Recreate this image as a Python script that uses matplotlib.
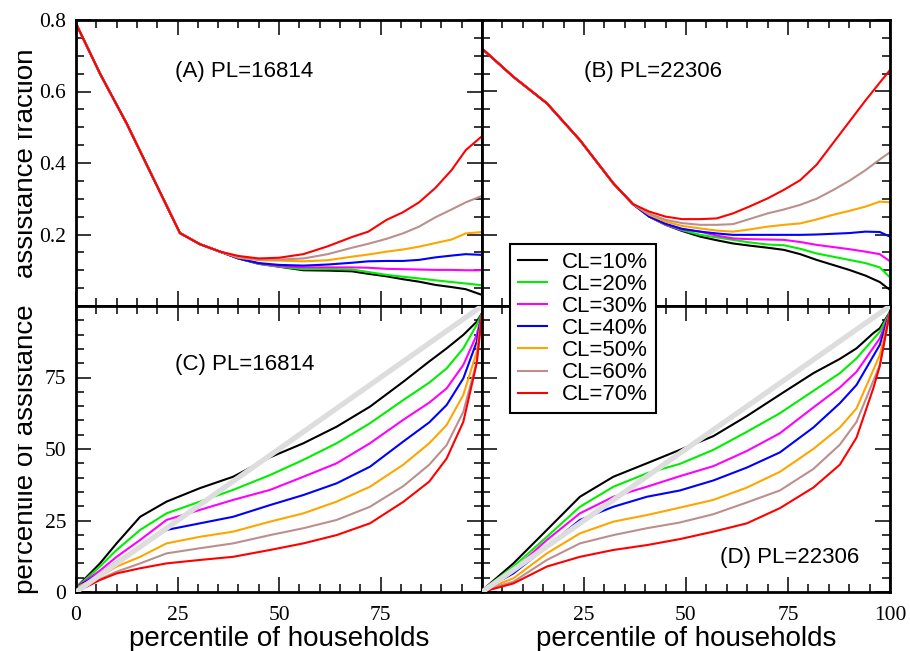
import matplotlib
matplotlib.use('Agg')
import matplotlib.pyplot as plt
from matplotlib.transforms import Bbox, TransformedBbox
from matplotlib.ticker import MultipleLocator, FixedLocator, FixedFormatter
from matplotlib.lines import Line2D

# ---------------- data ----------------
labels = ['CL=10%', 'CL=20%', 'CL=30%', 'CL=40%', 'CL=50%', 'CL=60%', 'CL=70%']
colors = ['#000000', '#00ee00', '#ff00ff', '#0000ff', '#ffa500', '#bc8f8f', '#ff0000']

# Panel A (PL=16814): assistance fraction
xA = [0, 6, 12.5, 19, 25.6, 30.5, 35.5, 40, 45, 50, 56, 62, 68, 72, 76.5, 80.5, 84.5, 88.5, 92.5, 96, 100]
A_common = [0.79, 0.648, 0.51, 0.358, 0.204, 0.173, 0.152]
A_black = A_common + [0.133, 0.118, 0.110, 0.100, 0.099, 0.097, 0.090, 0.083, 0.075, 0.068, 0.059, 0.053, 0.047, 0.031]
A_green = A_common + [0.133, 0.118, 0.110, 0.103, 0.103, 0.102, 0.095, 0.087, 0.082, 0.077, 0.072, 0.067, 0.063, 0.058]
A_magenta = A_common + [0.133, 0.119, 0.112, 0.108, 0.108, 0.108, 0.107, 0.104, 0.103, 0.102, 0.101, 0.101, 0.100, 0.100]
A_blue = A_common + [0.133, 0.120, 0.115, 0.113, 0.116, 0.121, 0.125, 0.126, 0.126, 0.129, 0.136, 0.141, 0.145, 0.143]
A_orange = A_common + [0.135, 0.128, 0.127, 0.125, 0.128, 0.138, 0.144, 0.152, 0.158, 0.166, 0.176, 0.186, 0.203, 0.207]
A_brown = A_common + [0.137, 0.130, 0.130, 0.133, 0.145, 0.163, 0.174, 0.188, 0.203, 0.222, 0.248, 0.270, 0.290, 0.308]
A_red = A_common + [0.140, 0.133, 0.135, 0.145, 0.167, 0.193, 0.208, 0.241, 0.262, 0.290, 0.330, 0.380, 0.436, 0.475]

# Panel B (PL=22306): assistance fraction
xB = [0, 7.7, 15.9, 24, 32.2, 37, 41, 45, 49, 53.5, 57.5, 61.5, 65.5, 70, 74, 78, 82, 86, 90, 94, 97.5, 100]
B_common = [0.72, 0.641, 0.567, 0.464, 0.343, 0.285]
B_black = B_common + [0.250, 0.227, 0.210, 0.194, 0.184, 0.175, 0.169, 0.163, 0.157, 0.145, 0.129, 0.115, 0.101, 0.085, 0.067, 0.045]
B_green = B_common + [0.250, 0.227, 0.212, 0.199, 0.192, 0.185, 0.178, 0.172, 0.170, 0.160, 0.147, 0.138, 0.129, 0.120, 0.108, 0.080]
B_magenta = B_common + [0.250, 0.228, 0.214, 0.208, 0.197, 0.189, 0.187, 0.186, 0.185, 0.179, 0.171, 0.165, 0.159, 0.152, 0.145, 0.125]
B_blue = B_common + [0.250, 0.230, 0.216, 0.208, 0.203, 0.199, 0.199, 0.199, 0.199, 0.199, 0.200, 0.202, 0.204, 0.208, 0.207, 0.194]
B_orange = B_common + [0.255, 0.236, 0.224, 0.217, 0.211, 0.208, 0.214, 0.222, 0.227, 0.231, 0.242, 0.255, 0.266, 0.278, 0.292, 0.290]
B_brown = B_common + [0.258, 0.241, 0.232, 0.227, 0.227, 0.229, 0.243, 0.259, 0.270, 0.283, 0.300, 0.324, 0.350, 0.380, 0.410, 0.430]
B_red = B_common + [0.264, 0.250, 0.243, 0.243, 0.245, 0.259, 0.278, 0.301, 0.325, 0.352, 0.395, 0.455, 0.515, 0.575, 0.625, 0.660]

# Panel C (PL=16814): percentile of assistance
xC = [0, 5.9, 10, 15.8, 22.3, 30.5, 38.7, 47.8, 56, 64.2, 72.4, 80.6, 87, 91.3, 95.4, 98.7, 100]
C_black = [1.5, 10, 17, 26.3, 31.6, 36.3, 40.3, 47.1, 52, 57.8, 64.8, 73.5, 80.6, 85.2, 89.9, 94.5, 97.5]
C_green = [1.5, 8.9, 14.7, 21.7, 27.5, 31.6, 35.7, 40.9, 46.2, 52, 59, 67.1, 73.2, 78.2, 85.2, 93.4, 97.5]
C_magenta = [1.5, 7.5, 12.3, 18.2, 25.2, 28.7, 32.2, 35.7, 40.3, 45, 52, 60.2, 66.2, 71.2, 79.4, 89.9, 97.5]
C_blue = [1.5, 6.5, 10.6, 15.8, 21.7, 24, 26.3, 30.4, 33.9, 38, 43.8, 52.6, 59.3, 65.4, 74.7, 87.5, 97.5]
C_orange = [1.5, 5.5, 8.9, 12.3, 17, 19.3, 21.1, 24.6, 27.5, 31.6, 36.8, 44.5, 52, 58.4, 68.9, 84, 97.5]
C_brown = [1.5, 4.5, 7.1, 10, 13.5, 15.3, 17, 19.9, 22.3, 25.2, 29.8, 37, 44.5, 51.4, 63, 80.5, 97.5]
C_red = [0, 4.2, 6.5, 8.3, 10, 11.2, 12.3, 14.7, 17, 19.9, 24, 31.5, 38.6, 46.7, 59.5, 80, 97.5]

# Panel D (PL=22306): percentile of assistance
xD = [0, 7.7, 15.9, 24, 32.2, 40.4, 48.5, 56.7, 64.9, 73, 81.2, 87.7, 91.8, 95.9, 97.5, 100]
D_black = [0.5, 10, 21.7, 33.3, 40.3, 45, 49.7, 54.5, 61.5, 69, 76.5, 81.5, 85.2, 90.5, 92.2, 98]
D_green = [0.5, 8.9, 19.3, 29.8, 36.8, 41.5, 44.8, 49.7, 56, 62.5, 70.3, 76.5, 81.7, 88.4, 91, 98]
D_magenta = [0.5, 7.7, 18.2, 27.5, 33.3, 36.8, 40.5, 44, 49.3, 55.5, 64.5, 71.5, 77, 85.4, 88.7, 98]
D_blue = [0.5, 6.5, 15.8, 25.2, 29.8, 33.3, 35.5, 39, 43.5, 48.8, 57.5, 66, 72.4, 82.5, 86.4, 98]
D_orange = [0.5, 4.8, 13.5, 20.5, 24.6, 26.9, 29.5, 32.2, 36.5, 42, 50, 57.5, 64.2, 77.6, 82.9, 98]
D_brown = [0.5, 3.6, 11.2, 17, 19.9, 22.3, 24.3, 27.2, 31.3, 35.5, 43, 51.5, 59.5, 73.8, 79.4, 98]
D_red = [0, 3, 8.9, 12.3, 14.7, 16.4, 18.5, 21.1, 24, 29.3, 36.5, 44.5, 54, 71.2, 79, 98]

diag = [0, 100]

panel_A = [A_black, A_green, A_magenta, A_blue, A_orange, A_brown, A_red]
panel_B = [B_black, B_green, B_magenta, B_blue, B_orange, B_brown, B_red]
panel_C = [C_black, C_green, C_magenta, C_blue, C_orange, C_brown, C_red]
panel_D = [D_black, D_green, D_magenta, D_blue, D_orange, D_brown, D_red]

# ---------------- figure ----------------
W, H = 910, 651
fig = plt.figure(figsize=(W / 100, H / 100), dpi=100)
L, M, R = 76 / W, 482 / W, 890 / W
T, Mi, B = 1 - 20 / H, 1 - 306 / H, 1 - 592 / H
axA = fig.add_axes([L, Mi, M - L, T - Mi])
axB = fig.add_axes([M, Mi, R - M, T - Mi])
axC = fig.add_axes([L, B, M - L, Mi - B])
axD = fig.add_axes([M, B, R - M, Mi - B])

sans = 'Liberation Sans'
serif = 'Liberation Serif'
LW = 1.5

for ax, xs, ys in [(axA, xA, panel_A), (axB, xB, panel_B)]:
    for y, c in zip(ys, colors):
        ax.plot(xs, y, color=c, lw=LW, zorder=2)
    ax.set_xlim(0, 100)
    ax.set_ylim(0, 0.8)
    ax.yaxis.set_major_locator(MultipleLocator(0.2))
    ax.yaxis.set_minor_locator(MultipleLocator(0.05))

for ax, xs, ys in [(axC, xC, panel_C), (axD, xD, panel_D)]:
    for y, c in zip(ys, colors):
        ax.plot(xs, y, color=c, lw=LW, zorder=2)
    ax.plot(diag, diag, color='#dddddd', lw=3.8, zorder=3, solid_capstyle='butt')
    ax.set_xlim(0, 100)
    ax.set_ylim(0, 100)
    ax.yaxis.set_major_locator(MultipleLocator(25))
    ax.yaxis.set_minor_locator(MultipleLocator(5))

for ax in [axA, axB, axC, axD]:
    ax.xaxis.set_major_locator(MultipleLocator(25))
    ax.xaxis.set_minor_locator(MultipleLocator(5))
    ax.tick_params(which='both', direction='in', top=True, right=True, width=1.1)
    ax.tick_params(which='major', length=11, pad=7)
    ax.tick_params(which='minor', length=6)
    for s in ax.spines.values():
        s.set_linewidth(2)

axA.tick_params(labelbottom=False)
axB.tick_params(labelbottom=False, labelleft=False)
axD.tick_params(labelleft=False)
axA.yaxis.set_major_locator(FixedLocator([0.2, 0.4, 0.6, 0.8]))
axA.yaxis.set_major_formatter(FixedFormatter(['0.2', '0.4', '0.6', '0.8']))
axC.yaxis.set_major_locator(FixedLocator([0, 25, 50, 75]))
axC.xaxis.set_major_locator(FixedLocator([0, 25, 50, 75]))
axD.xaxis.set_major_locator(FixedLocator([25, 50, 75, 100]))
for ax in [axA, axB, axC, axD]:
    for lab in ax.get_xticklabels() + ax.get_yticklabels():
        lab.set_fontfamily(serif)
        lab.set_fontsize(15.5)
axC.tick_params(axis='x', which='major', pad=10)
axD.tick_params(axis='x', which='major', pad=10)

for ax in [axC, axD]:
    ax.set_xlabel('percentile of households', fontsize=20, fontfamily=sans, labelpad=1)

# panel annotations
axA.text(24.4, 0.655, '(A) PL=16814', fontsize=16, fontfamily=sans, ha='left', va='center')
axB.text(25, 0.655, '(B) PL=22306', fontsize=16, fontfamily=sans, ha='left', va='center')
axC.text(24.4, 79.4, '(C) PL=16814', fontsize=16, fontfamily=sans, ha='left', va='center')
axD.text(58.3, 11.9, '(D) PL=22306', fontsize=16, fontfamily=sans, ha='left', va='center')

# y labels (clipped at the left like the original)
clip = TransformedBbox(Bbox.from_extents(18 / W, 0, 1, 1), fig.transFigure)
for txt, yc in [('assistance fraction', (T + Mi) / 2), ('percentile of assistance', (Mi + B) / 2)]:
    t = fig.text(33 / W, yc, txt, rotation=90, rotation_mode='anchor', ha='center',
                 va='baseline', fontsize=20, fontfamily=sans)
    t.set_clip_box(clip)
    t.set_clip_on(True)

# legend
handles = [Line2D([], [], color=c, lw=LW) for c in colors]
leg = fig.legend(handles, labels, loc='upper left', bbox_to_anchor=(510 / W, 1 - 244 / H),
                 borderaxespad=0, frameon=True, fancybox=False, framealpha=1,
                 edgecolor='black', handlelength=1.3, handletextpad=0.7,
                 labelspacing=0.05, borderpad=0.35,
                 prop={'family': sans, 'size': 16})
leg.get_frame().set_linewidth(1.5)
leg.set_zorder(10)

fig.savefig('out.png', dpi=100)
